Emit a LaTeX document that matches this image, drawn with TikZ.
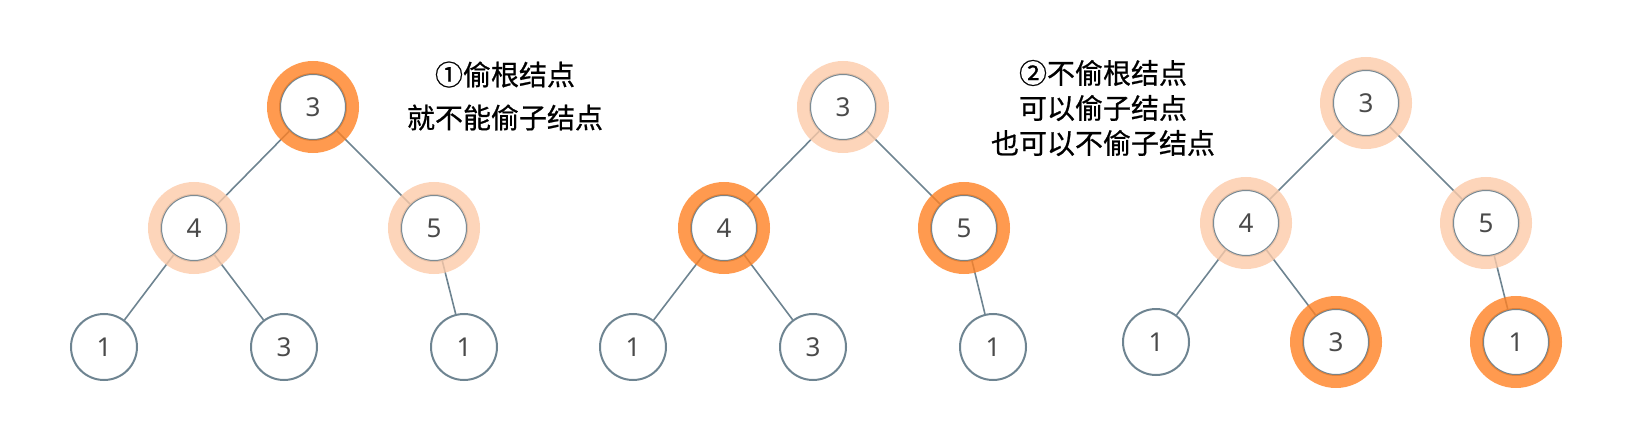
\documentclass[tikz,border=0pt]{standalone}
\usepackage{fontspec}
\setmainfont{Noto Sans}
\newfontfamily\cjk[FakeBold=0.7]{Noto Sans CJK SC}
\usepackage{tikz}
\usetikzlibrary{positioning}

\definecolor{edgegray}{HTML}{6E8491}
\definecolor{numgray}{HTML}{4A4A4A}
\definecolor{hotorange}{RGB}{255,129,35}
\definecolor{softorange}{RGB}{252,202,169}

\begin{document}
\begin{tikzpicture}[
        x=0.5pt, y=-0.5pt,
        num/.style={circle, draw=edgegray, line width=1pt, fill=white, minimum size=33pt, inner sep=0pt,
            text=numgray, font=\fontsize{13}{15}\selectfont},
        link/.style={draw=edgegray, line width=0.8pt},
        hot/.style={draw=hotorange, draw opacity=0.8, line width=6.5pt},
        soft/.style={draw=softorange, draw opacity=0.8, line width=6.5pt},
        note/.style={align=center, font=\cjk\fontsize{14}{21.5}\selectfont}
    ]
        \useasboundingbox (0,0) rectangle (1642,438);
        % tree 1
        \node[num] (root1)  at (313,107) {3};
        \node[num] (left1)  at (194,228) {4};
        \node[num] (right1) at (434,228) {5};
        \node[num] (ll1)    at (104,347) {1};
        \node[num] (lr1)    at (284,347) {3};
        \node[num] (rl1)    at (464,347) {1};
        \draw[link] (root1) -- (left1);
        \draw[link] (root1) -- (right1);
        \draw[link] (left1) -- (ll1);
        \draw[link] (left1) -- (lr1);
        \draw[link] (right1) -- (rl1);
        \draw[hot]  (root1.center) circle[radius=19.75pt];
        \draw[soft] (left1.center) circle[radius=19.75pt];
        \draw[soft] (right1.center) circle[radius=19.75pt];
        \node[note] (rule1) at (505,96) {①偷根结点\\就不能偷子结点};
        % tree 2
        \node[num] (root2)  at (843,107) {3};
        \node[num] (left2)  at (724,228) {4};
        \node[num] (right2) at (964,228) {5};
        \node[num] (ll2)    at (633,347) {1};
        \node[num] (lr2)    at (813,347) {3};
        \node[num] (rl2)    at (993,347) {1};
        \draw[link] (root2) -- (left2);
        \draw[link] (root2) -- (right2);
        \draw[link] (left2) -- (ll2);
        \draw[link] (left2) -- (lr2);
        \draw[link] (right2) -- (rl2);
        \draw[soft] (root2.center) circle[radius=19.75pt];
        \draw[hot]  (left2.center) circle[radius=19.75pt];
        \draw[hot]  (right2.center) circle[radius=19.75pt];
        \node[note, font=\cjk\fontsize{14}{17.5}\selectfont] (rule2) at (1103,108) {②不偷根结点\\可以偷子结点\\也可以不偷子结点};
        % tree 3
        \node[num] (root3)  at (1366,103) {3};
        \node[num] (left3)  at (1246,223) {4};
        \node[num] (right3) at (1486,223) {5};
        \node[num] (ll3)    at (1156,342) {1};
        \node[num] (lr3)    at (1336,342) {3};
        \node[num] (rl3)    at (1516,342) {1};
        \draw[link] (root3) -- (left3);
        \draw[link] (root3) -- (right3);
        \draw[link] (left3) -- (ll3);
        \draw[link] (left3) -- (lr3);
        \draw[link] (right3) -- (rl3);
        \draw[soft] (root3.center) circle[radius=19.75pt];
        \draw[soft] (left3.center) circle[radius=19.75pt];
        \draw[soft] (right3.center) circle[radius=19.75pt];
        \draw[hot]  (lr3.center) circle[radius=19.75pt];
        \draw[hot]  (rl3.center) circle[radius=19.75pt];
    \end{tikzpicture}
\end{document}
